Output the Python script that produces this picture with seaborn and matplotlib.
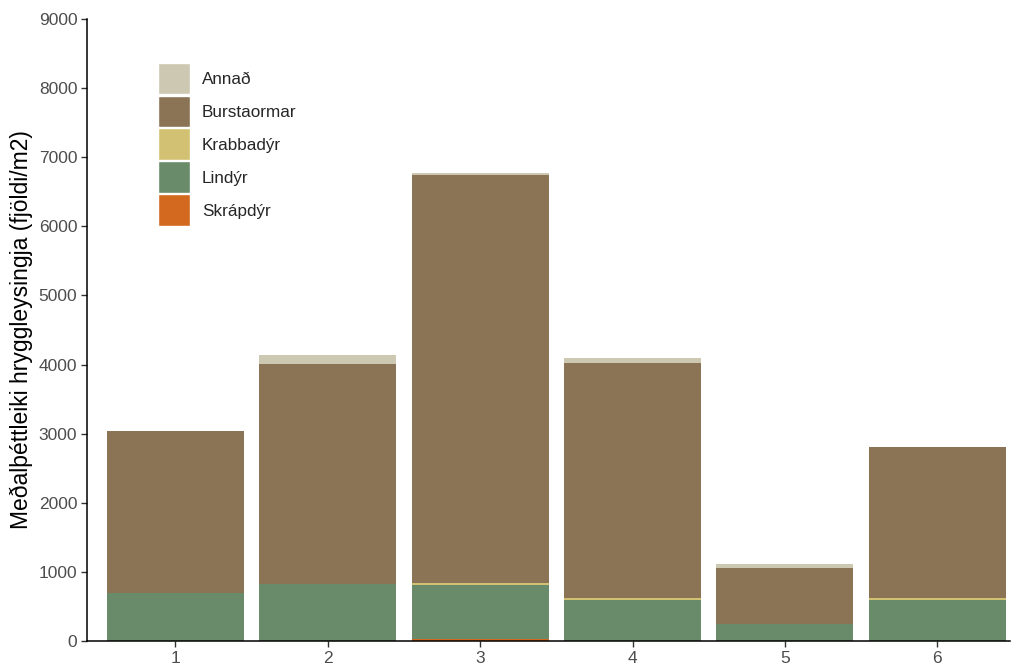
"""Stacked bar chart of mean invertebrate density per station."""

import matplotlib.pyplot as plt
import numpy as np
import pandas as pd
import seaborn as sns
from matplotlib.patches import Patch

SITES = ["1", "2", "3", "4", "5", "6"]
# stacking order, bottom to top
GROUPS = ["Skrápdýr", "Lindýr", "Krabbadýr", "Burstaormar", "Annað"]
SKRAPDYR = [0, 0, 35, 0, 0, 0]
LINDYR = [695, 820, 775, 595, 245, 595]
KRABBADYR = [0, 0, 30, 25, 0, 25]
BURSTAORMAR = [2345, 3190, 5905, 3400, 810, 2190]
ANNAD = [0, 130, 30, 75, 60, 0]

COLORS = {
    "Annað": "#cdc8b1",
    "Burstaormar": "#8b7355",
    "Krabbadýr": "#d2c172",
    "Lindýr": "#698b69",
    "Skrápdýr": "#d2691e",
}


def main() -> None:
    sns.set_theme(style="ticks")
    plt.rcParams["font.family"] = ["Liberation Sans", "DejaVu Sans"]

    values = dict(zip(GROUPS, [SKRAPDYR, LINDYR, KRABBADYR, BURSTAORMAR, ANNAD]))
    df = pd.DataFrame(values, index=SITES).rename_axis("stod").reset_index()

    fig = plt.figure(figsize=(10.18, 6.64), dpi=100)
    ax = fig.add_axes([0.0855, 0.0346, 0.907, 0.9368])

    bottom = np.zeros(len(SITES))
    for group in GROUPS:
        sns.barplot(
            data=df, x="stod", y=group, order=SITES, color=COLORS[group],
            bottom=bottom, width=0.9, saturation=1, linewidth=0, ax=ax,
        )
        bottom = bottom + df[group].to_numpy()

    ax.set_ylim(0, 9000)
    ax.set_yticks(range(0, 9001, 1000))
    ax.set_xlim(-0.58, 5.48)
    ax.set_xlabel("")
    ax.set_ylabel("Meðalþéttleiki hryggleysingja (fjöldi/m2)", fontsize=16.5,
                  color="black", labelpad=4)
    ax.tick_params(axis="both", labelsize=12.5, labelcolor="#4d4d4d", color="#333333",
                   length=4, width=1, pad=3)
    for side in ("top", "right"):
        ax.spines[side].set_visible(False)
    for side in ("left", "bottom"):
        ax.spines[side].set_color("black")
        ax.spines[side].set_linewidth(1.1)

    legend_order = ["Annað", "Burstaormar", "Krabbadýr", "Lindýr", "Skrápdýr"]
    handles = [Patch(facecolor=COLORS[g], edgecolor="white", linewidth=1) for g in legend_order]
    ax.legend(
        handles, legend_order, loc="upper left", bbox_to_anchor=(0.077, 0.93),
        frameon=False, fontsize=12.3, handlelength=1.87, handleheight=2.5,
        labelspacing=0.06, handletextpad=0.7, borderaxespad=0, borderpad=0,
    )

    fig.savefig("out.png", dpi=100)
    plt.close(fig)


if __name__ == "__main__":
    main()
